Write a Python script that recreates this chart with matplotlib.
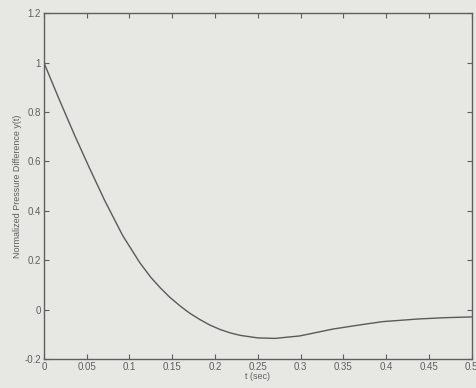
import matplotlib
matplotlib.use("Agg")
import matplotlib.pyplot as plt

# Data
t_sec = [0, 0.018, 0.036, 0.053, 0.071, 0.092, 0.112, 0.125, 0.136, 0.147, 0.159,
         0.17, 0.182, 0.194, 0.206, 0.218, 0.23, 0.25, 0.27, 0.299, 0.338, 0.37,
         0.396, 0.439, 0.47, 0.5]
y_val = [1.0, 0.85, 0.705, 0.575, 0.442, 0.30, 0.19, 0.13, 0.088, 0.05, 0.015,
         -0.014, -0.04, -0.063, -0.081, -0.095, -0.105, -0.115, -0.117, -0.107, -0.079, -0.062,
         -0.049, -0.038, -0.033, -0.030]

x_ticks = [0, 0.05, 0.1, 0.15, 0.2, 0.25, 0.3, 0.35, 0.4, 0.45, 0.5]
x_tick_labels = ["0", "0.05", "0.1", "0.15", "0.2", "0.25", "0.3", "0.35", "0.4", "0.45", "0.5"]
y_ticks = [-0.2, 0, 0.2, 0.4, 0.6, 0.8, 1.0, 1.2]
y_tick_labels = ["-0.2", "0", "0.2", "0.4", "0.6", "0.8", "1", "1.2"]

plt.rcParams['font.family'] = ['Liberation Sans', 'DejaVu Sans']

bg = '#e7e7e3'
ink = '#5f5f5f'

fig = plt.figure(figsize=(4.77, 3.88), dpi=100, facecolor=bg)
ax = fig.add_axes([0.092, 0.075, 0.897, 0.891])
ax.set_facecolor(bg)

ax.plot(t_sec, y_val, color='#5a5a5a', linewidth=1.0, solid_joinstyle='round')

ax.set_xlim(0, 0.5)
ax.set_ylim(-0.2, 1.2)
ax.set_xticks(x_ticks)
ax.set_xticklabels(x_tick_labels)
ax.set_yticks(y_ticks)
ax.set_yticklabels(y_tick_labels)

ax.tick_params(direction='in', length=3.5, width=0.8, colors=ink,
               labelsize=7, top=True, right=True, pad=2)
for s in ax.spines.values():
    s.set_color(ink)
    s.set_linewidth(1.0)

ax.set_xlabel("t (sec)", fontsize=6.5, color=ink, labelpad=0)
ax.set_ylabel("Normalized Pressure Difference y(t)", fontsize=6.5, color=ink, labelpad=2)

fig.savefig("out.png", dpi=100, facecolor=bg)
